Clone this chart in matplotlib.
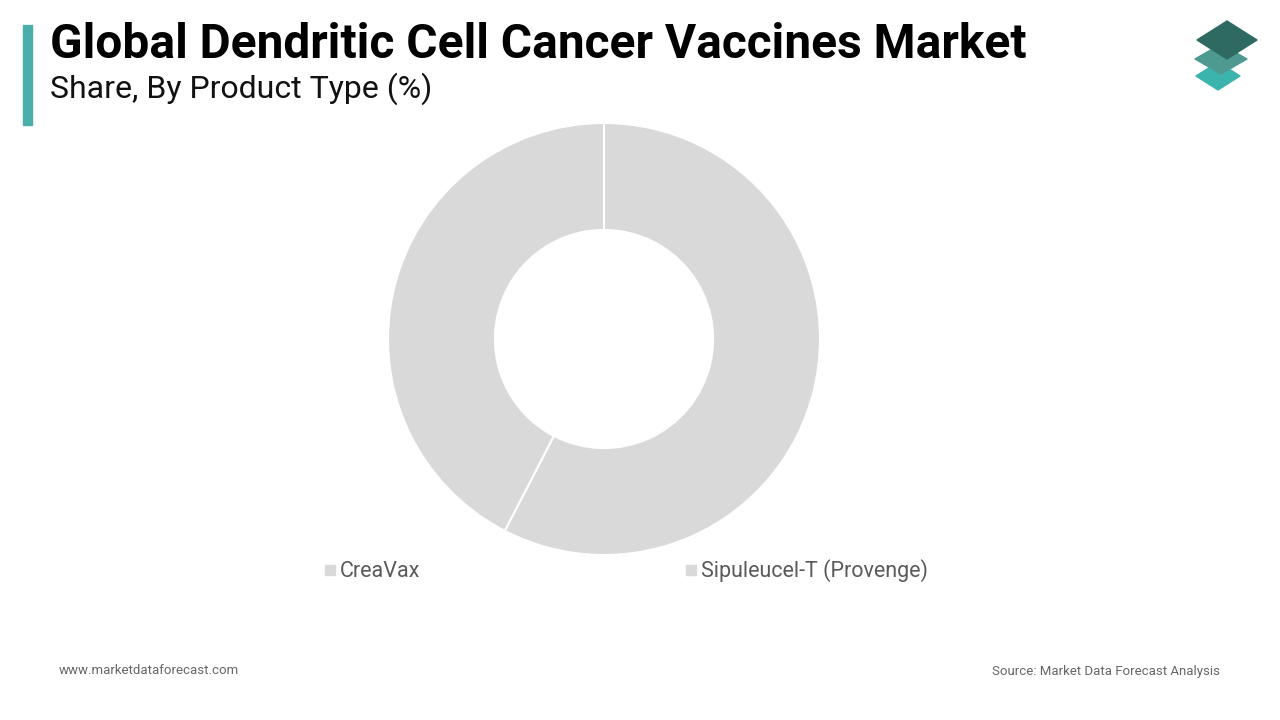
import matplotlib.pyplot as plt
from matplotlib.lines import Line2D
from matplotlib.patches import Polygon, Rectangle

plt.rcParams['font.family'] = ['Roboto', 'DejaVu Sans']

products = ['CreaVax', 'Sipuleucel-T (Provenge)']
shares = [57.6, 42.4]  # %
slice_color = '#d9d9d9'

fig = plt.figure(figsize=(12.8, 7.2), dpi=100)

# donut
ax = fig.add_axes([388/1280, 165/720, 432/1280, 432/720])
ax.pie(shares, colors=[slice_color]*len(shares), startangle=90, counterclock=False,
       radius=1, wedgeprops=dict(width=0.495, edgecolor='white', linewidth=1.5))
ax.set_xlim(-1, 1)
ax.set_ylim(-1, 1)
ax.set_aspect('equal')
ax.axis('off')

# titles + accent bar
fig.patches.append(Rectangle((23/1280, 1-125/720), 9/1280, 100/720,
                             transform=fig.transFigure, color='#4aaeaa'))
fig.text(50/1280, 1-45/720, 'Global Dendritic Cell Cancer Vaccines Market',
         fontsize=34.5, fontweight='bold', color='black', va='center')
fig.text(50/1280, 1-89/720, 'Share, By Product Type (%)',
         fontsize=23, color='#111111', va='center')

# legend
handles = [Line2D([], [], marker='s', linestyle='none', markersize=7,
                  color=slice_color) for _ in products]
fig.legend(handles, products, loc='center left', bbox_to_anchor=(323.5/1280, 1-571/720),
           ncol=2, frameon=False, fontsize=15.5, handlelength=0.6, handletextpad=0.15,
           columnspacing=12.3, borderpad=0, borderaxespad=0, labelcolor='#5a5a5a')

# footer
fig.text(59/1280, 1-671/720, 'www.marketdataforecast.com', fontsize=9.5,
         color='#666666', va='center')
fig.text(1220/1280, 1-671/720, 'Source: Market Data Forecast Analysis', fontsize=9.5,
         color='#666666', va='center', ha='right')

# logo
def diamond(cx, cy, hw, hh, c):
    pts = [(cx-hw, cy), (cx, cy-hh), (cx+hw, cy), (cx, cy+hh)]
    pts = [(x/1280, 1-y/720) for x, y in pts]
    fig.patches.append(Polygon(pts, closed=True, transform=fig.transFigure,
                               color=c, joinstyle='round'))

diamond(1218, 76, 22, 14, '#3cb4ae')
diamond(1221, 59, 26, 15, '#4f9a90')
diamond(1227, 40, 30, 19, '#2e6a62')

fig.savefig('out.png', dpi=100)
